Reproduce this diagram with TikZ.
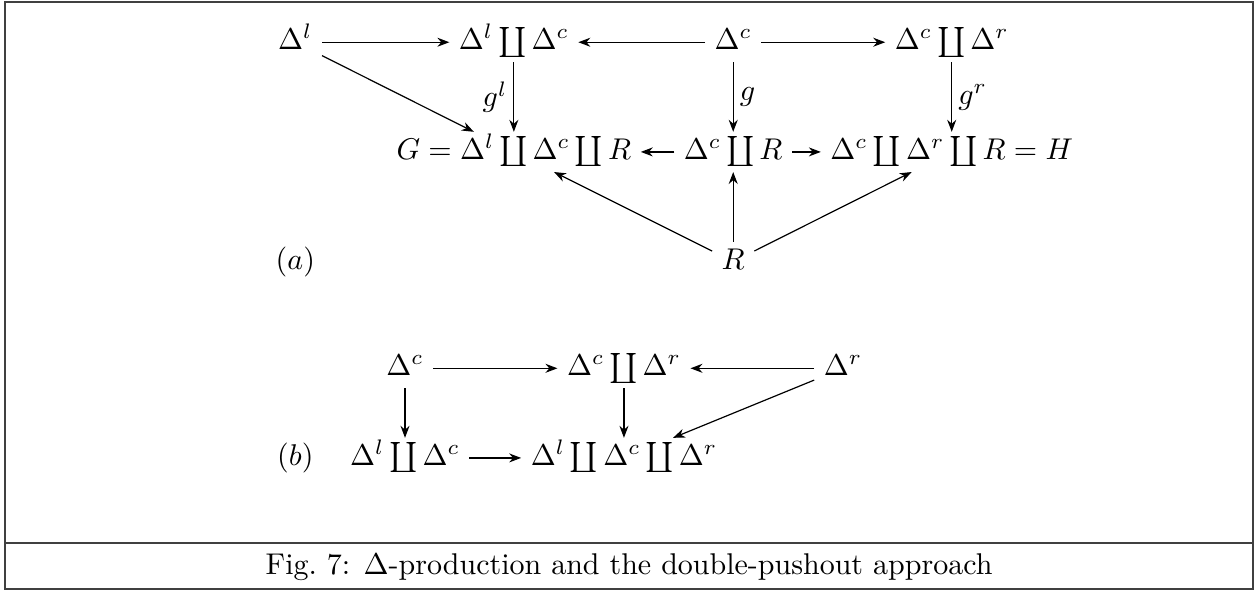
\documentclass[tikz,border=0pt]{standalone}
\usepackage{amsmath,amssymb}
\usepackage{tikz}
\usetikzlibrary{arrows.meta,positioning}

\begin{document}
\begin{tikzpicture}[
  obj/.style={inner xsep=3pt, inner ysep=2pt, text height=7pt, text depth=2pt},
  map/.style={-{Stealth[length=4pt,width=3pt]}, thin},
  lbl/.style={inner sep=2pt}]
\useasboundingbox (0,0) rectangle (14.75,6.935);
% frame with the caption row
\draw[line width=0.6pt, black!75] (0.06,0.035) rectangle (14.68,6.91);
\draw[line width=0.6pt, black!75] (0.06,0.574) -- (14.68,0.574);
\node (caption) at (7.37,0.293) {Fig.~7: $\Delta$-production and the double-pushout approach};

% (a)
\node[obj] (dl) at (3.46,6.44) {$\Delta^l$};
\node[obj] (dlc) at (6.02,6.44) {$\Delta^l \coprod \Delta^c$};
\node[obj] (dc) at (8.59,6.44) {$\Delta^c$};
\node[obj] (dcr) at (11.15,6.44) {$\Delta^c \coprod \Delta^r$};
\node[obj] (G) at (6.02,5.155) {$G = \Delta^l \coprod \Delta^c \coprod R$};
\node[obj] (dcR) at (8.59,5.155) {$\Delta^c \coprod R$};
\node[obj] (H) at (11.15,5.155) {$\Delta^c \coprod \Delta^r \coprod R = H$};
\node[obj] (R) at (8.59,3.87) {$R$};
\node (la) at (3.46,3.87) {$(a)$};

\draw[map] (dl) -- (dlc);
\draw[map] (dc) -- (dlc);
\draw[map] (dc) -- (dcr);
\draw[map] (dl) -- (G);
\draw[map] (dlc) -- node[left, lbl] {$g^l$} (G);
\draw[map] (dc) -- node[right, lbl] {$g$} (dcR);
\draw[map] (dcr) -- node[right, lbl] {$g^r$} (H);
\draw[map] (dcR) -- (G);
\draw[map] (dcR) -- (H);
\draw[map] (R) -- (G);
\draw[map] (R) -- (dcR);
\draw[map] (R) -- (H);

% (b)
\node[obj] (bc) at (4.745,2.62) {$\Delta^c$};
\node[obj] (bcr) at (7.31,2.62) {$\Delta^c \coprod \Delta^r$};
\node[obj] (br) at (9.876,2.62) {$\Delta^r$};
\node[obj] (blc) at (4.745,1.57) {$\Delta^l \coprod \Delta^c$};
\node[obj] (blcr) at (7.31,1.57) {$\Delta^l \coprod \Delta^c \coprod \Delta^r$};
\node (lb) at (3.46,1.57) {$(b)$};

\draw[map] (bc) -- (bcr);
\draw[map] (br) -- (bcr);
\draw[map] (bc) -- (blc);
\draw[map] (bcr) -- (blcr);
\draw[map] (br) -- (blcr);
\draw[map] (blc) -- (blcr);
\end{tikzpicture}
\end{document}
